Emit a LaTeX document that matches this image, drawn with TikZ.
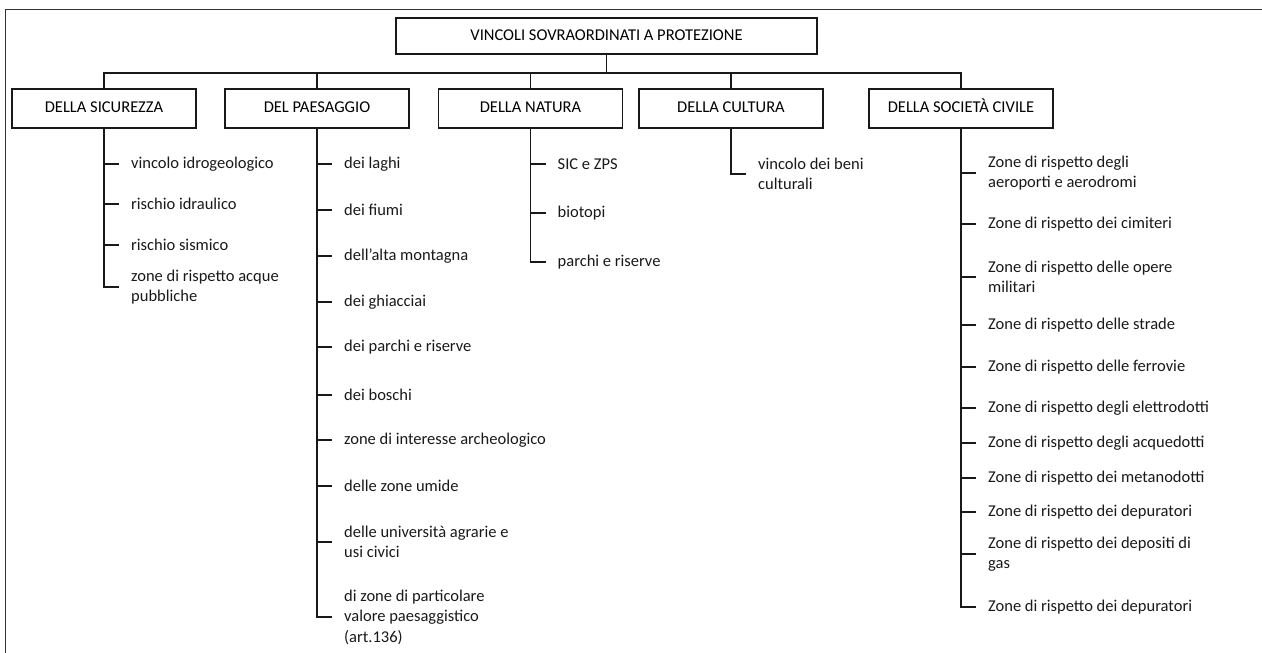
\documentclass[tikz,border=0pt]{standalone}
\usepackage{fontspec}
\setmainfont{Carlito}

\begin{document}
\begin{tikzpicture}[x=1pt, y=-1pt,
 font=\fontsize{16.5}{20.5}\selectfont,
 boxnode/.style={rectangle, draw=black!90, line width=1.5pt, minimum width=184pt, minimum height=39pt, inner sep=0pt, text height=0.84em, text depth=0.02em},
 rootnode/.style={boxnode, minimum width=421pt, minimum height=36pt},
 leafnode/.style={anchor=west, align=left, inner xsep=12pt, inner ysep=0pt, text=black!90},
 treeline/.style={draw=black!90, line width=1.5pt},
 ]
 \useasboundingbox (0,0) rectangle (1262,653);
 %Frame
 \draw[line width=1.8pt, black!80] (5.5,653) -- (5.5,9.5) -- (1262,9.5);

 %Nodes
 \node[rootnode] (root_node) at (606.5,36) {VINCOLI SOVRAORDINATI A PROTEZIONE};
 \node[boxnode] (sicurezza_node) at (104,108.5) {DELLA SICUREZZA};
 \node[boxnode] (paesaggio_node) at (317,108.5) {DEL PAESAGGIO};
 \node[boxnode] (natura_node) at (530.5,108.5) {DELLA NATURA};
 \node[boxnode] (cultura_node) at (731,108.5) {DELLA CULTURA};
 \node[boxnode] (societa_node) at (961,108.5) {DELLA SOCIETÀ CIVILE};
 \coordinate (bus) at (606.5,73);

 %Lines
 \draw[treeline] (root_node.south) -- (bus);
 \foreach \b in {sicurezza_node, paesaggio_node, natura_node, cultura_node, societa_node}
   \draw[treeline] (\b.north) |- (bus);

 %Leaves
 \foreach \n/\y/\t in {si1/164/{vincolo idrogeologico}, si2/204/{rischio idraulico},
   si3/245/{rischio sismico}, si4/287/{zone di rispetto acque\\pubbliche}}
 {
   \node[leafnode] (\n) at (119,\y) {\t};
   \draw[treeline] (sicurezza_node.south) |- (\n.west);
 }
 \foreach \n/\y/\t in {pa1/164/{dei laghi}, pa2/210/{dei fiumi}, pa3/256/{dell’alta montagna},
   pa4/302/{dei ghiacciai}, pa5/347/{dei parchi e riserve}, pa6/395/{dei boschi},
   pa7/440/{zone di interesse archeologico}, pa8/486/{delle zone umide},
   pa9/542/{delle università agrarie e\\usi civici},
   pa10/617/{di zone di particolare\\valore paesaggistico\\(art.136)}}
 {
   \node[leafnode] (\n) at (332,\y) {\t};
   \draw[treeline] (paesaggio_node.south) |- (\n.west);
 }
 \foreach \n/\y/\t in {na1/164/{SIC e ZPS}, na2/213/{biotopi}, na3/262/{parchi e riserve}}
 {
   \node[leafnode] (\n) at (545.5,\y) {\t};
   \draw[treeline] (natura_node.south) |- (\n.west);
 }
 \foreach \n/\y/\t in {cu1/174/{vincolo dei beni\\culturali}}
 {
   \node[leafnode] (\n) at (746,\y) {\t};
   \draw[treeline] (cultura_node.south) |- (\n.west);
 }
 \foreach \n/\y/\t in {so1/173/{Zone di rispetto degli\\aeroporti e aerodromi},
   so2/224/{Zone di rispetto dei cimiteri},
   so3/277/{Zone di rispetto delle opere\\militari},
   so4/325/{Zone di rispetto delle strade}, so5/367/{Zone di rispetto delle ferrovie},
   so6/408/{Zone di rispetto degli elettrodotti}, so7/443/{Zone di rispetto degli acquedotti},
   so8/478/{Zone di rispetto dei metanodotti}, so9/512/{Zone di rispetto dei depuratori},
   so10/554/{Zone di rispetto dei depositi di\\gas},
   so11/607/{Zone di rispetto dei depuratori}}
 {
   \node[leafnode] (\n) at (976,\y) {\t};
   \draw[treeline] (societa_node.south) |- (\n.west);
 }
\end{tikzpicture}
\end{document}
